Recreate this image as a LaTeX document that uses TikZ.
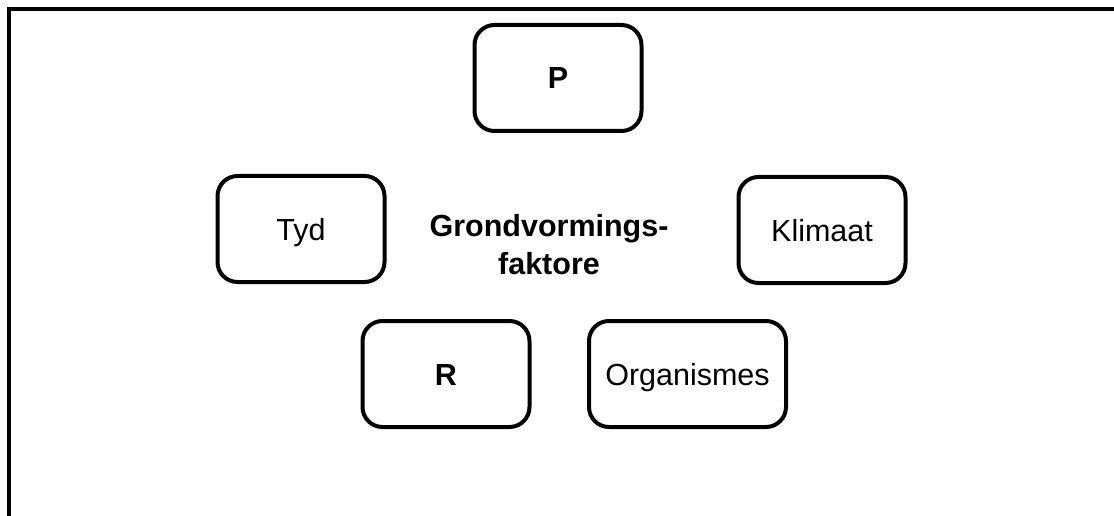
\documentclass[tikz,border=0pt]{standalone}
\usepackage{fontspec}
\setmainfont{Liberation Sans}
\usepackage{tikz}
\usetikzlibrary{positioning}
\tikzset{every node/.style={font=\normalfont}}

\begin{document}
\begin{tikzpicture}[x=1pt, y=-1pt, every node/.style={font=\fontsize{30.5}{38}\selectfont}]
    % Define styles
    \tikzstyle{factor} = [rectangle, rounded corners=20pt, minimum width=167pt, minimum height=106pt, text height=22pt, text depth=0pt, inner sep=0pt, text centered, draw=black, line width=4pt]
    \tikzstyle{frame} = [draw=black, line width=4pt]

    % Page and outer frame
    \useasboundingbox (0, 0) rectangle (1114, 516);
    \clip (0, 0) rectangle (1114, 516);
    \draw [frame] (8.5, 9) rectangle (1140, 540);

    % Centre label
    \node (title) [align=center, font=\fontsize{30.5}{38}\selectfont\bfseries] at (549, 245) {Grondvormings-\\faktore};

    % Factors round the label
    \node (p) [factor, font=\fontsize{30.5}{38}\selectfont\bfseries] at (558, 78) {P};
    \node (tyd) [factor] at (301, 229) {Tyd};
    \node (klimaat) [factor] at (822, 230) {Klimaat};
    \node (r) [factor, font=\fontsize{30.5}{38}\selectfont\bfseries] at (446, 374) {R};
    \node (organismes) [factor, minimum width=197pt] at (687.5, 374) {Organismes};
\end{tikzpicture}
\end{document}
